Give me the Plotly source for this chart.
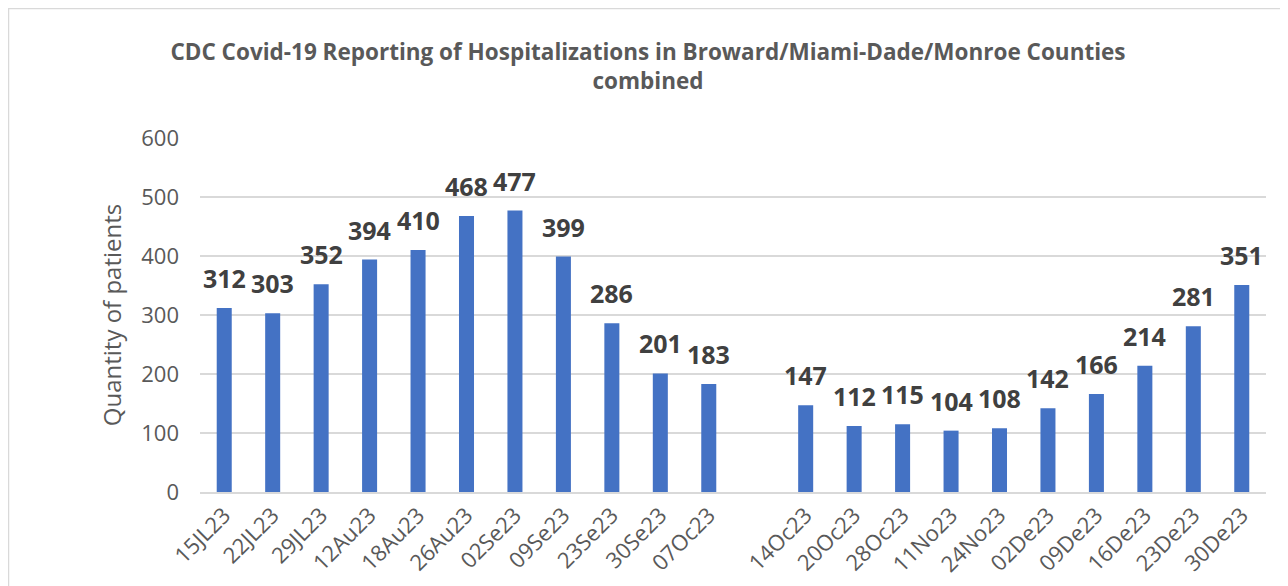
import plotly.graph_objects as go

categories = ["15JL23", "22JL23", "29JL23", "12Au23", "18Au23", "26Au23", "02Se23",
              "09Se23", "23Se23", "30Se23", "07Oc23", " ", "14Oc23", "20Oc23",
              "28Oc23", "11No23", "24No23", "02De23", "09De23", "16De23", "23De23", "30De23"]
values = [312, 303, 352, 394, 410, 468, 477, 399, 286, 201, 183, None, 147, 112,
          115, 104, 108, 142, 166, 214, 281, 351]
y_ticks = [0, 100, 200, 300, 400, 500, 600]

FONT = "Open Sans"
W, H = 1280, 578  # page body adds an 8px margin

fig = go.Figure()
fig.add_trace(go.Bar(
    x=categories, y=values,
    marker=dict(color="#4472C4", line=dict(width=0)),
))

# value labels above each bar
for c, v in zip(categories, values):
    if v is None:
        continue
    fig.add_annotation(x=c, y=v, xref="x", yref="y", text=str(v), showarrow=False,
                       yanchor="bottom", yshift=11,
                       font=dict(family=FONT, size=25, color="#404040", weight="bold"))

fig.update_layout(
    width=W, height=H,
    paper_bgcolor="white", plot_bgcolor="white",
    margin=dict(l=192, r=22, t=130, b=94, autoexpand=False),
    bargap=0.69,
    showlegend=False,
    title=dict(
        text="CDC Covid-19 Reporting of Hospitalizations in Broward/Miami-Dade/Monroe Counties<br>combined",
        x=0.5, xref="container", xanchor="center", y=1 - 52 / H, yanchor="middle",
        font=dict(family=FONT, size=22.5, color="#595959", weight="bold"),
    ),
    xaxis=dict(
        type="category", categoryorder="array", categoryarray=categories,
        tickangle=-45, tickfont=dict(family=FONT, size=22, color="#595959"),
        showgrid=False, showline=True, linecolor="#d9d9d9", linewidth=1.5,
        ticks="", automargin=False,
    ),
    yaxis=dict(
        range=[0, 600], tickvals=y_ticks, showgrid=True, gridcolor="#d9d9d9",
        gridwidth=1.5, zeroline=False, showline=False, automargin=False,
        tickfont=dict(family=FONT, size=22, color="#595959"),
        ticklabelstandoff=20,
        title=dict(text="Quantity of patients", font=dict(family=FONT, size=24, color="#595959"),
                   standoff=12),
    ),
)

# light border around the chart
fig.add_shape(type="rect", xref="paper", yref="paper",
              x0=(0.5 - 192) / 1066, x1=(1276 - 192) / 1066,
              y0=(484 - 620) / 354, y1=(484 - 0.5) / 354,
              line=dict(color="#d9d9d9", width=1.5), fillcolor="rgba(0,0,0,0)", layer="below")

fig.write_html("out.html")
